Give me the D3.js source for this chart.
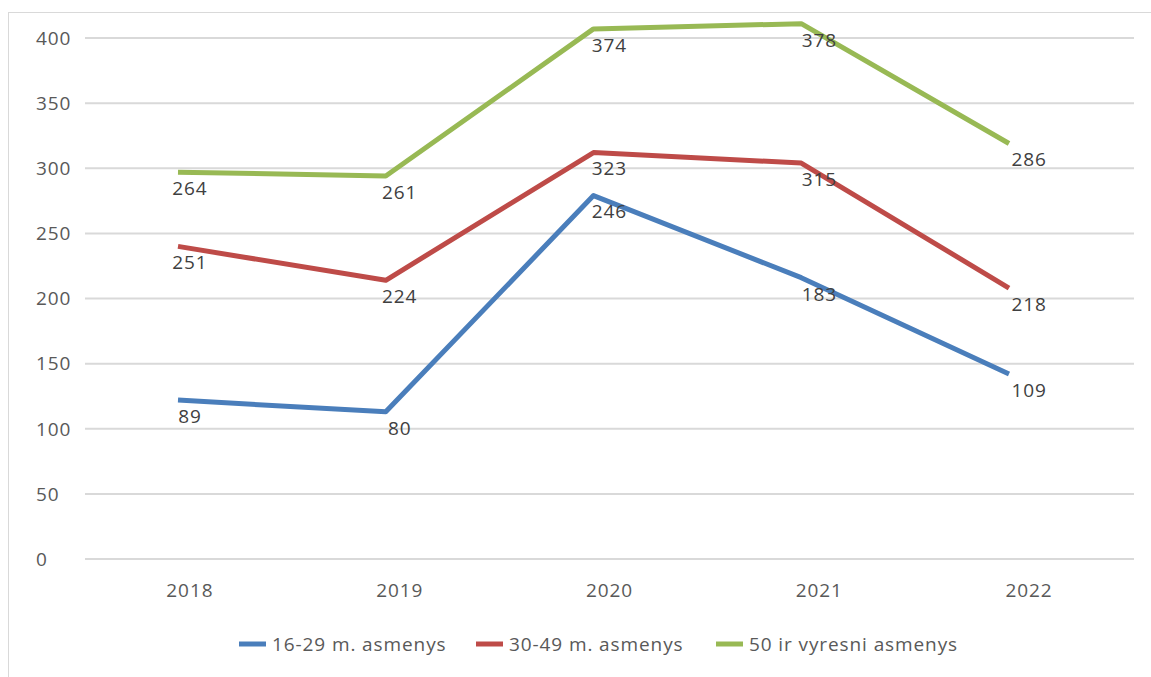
<!DOCTYPE html>
<html><head><meta charset="utf-8">
<script src="https://cdn.jsdelivr.net/npm/d3@7"></script>
<style>body{margin:0;background:#fff}svg{display:block}text{font-family:"Open Sans",sans-serif;fill:#595959;letter-spacing:0.9px}</style>
</head><body><svg id="c" width="1151" height="677"></svg>
<script>
const years = ["2018","2019","2020","2021","2022"];
const seriesNames = ["16-29 m. asmenys","30-49 m. asmenys","50 ir vyresni asmenys"];
// positions of the drawn lines
const young = [122,113,279,216,142];
const middle = [240,214,312,304,208];
const older = [297,294,407,411,319];
// data labels as printed in the picture
const youngLabels = [89,80,246,183,109];
const middleLabels = [251,224,323,315,218];
const olderLabels = [264,261,374,378,286];
const yTicks = [0,50,100,150,200,250,300,350,400];
const colors = ["#4a7ebb","#be4b48","#98b954"];

const svg = d3.select("#c");
svg.append("rect").attr("x",8.5).attr("y",12.5).attr("width",1160).attr("height",680)
  .attr("fill","none").attr("stroke","#d9d9d9");

const y = d3.scaleLinear().domain([0,400]).range([559,38]);
const xBand = d3.scaleBand().domain(years).range([85,1134]);
const xLine = d3.scalePoint().domain(years).range([178,1009]);
const fs = 19;

// grid
svg.append("g").selectAll("line").data(yTicks).join("line")
  .attr("x1",85).attr("x2",1134).attr("y1",d=>y(d)).attr("y2",d=>y(d))
  .attr("stroke","#d9d9d9").attr("stroke-width",2);
svg.append("g").selectAll("text").data(yTicks).join("text")
  .attr("x",36).attr("y",d=>y(d)).attr("dy","0.36em").attr("font-size",fs).text(d=>d);
svg.append("g").selectAll("text").data(years).join("text")
  .attr("x",d=>xBand(d)+xBand.bandwidth()/2).attr("y",590).attr("dy","0.36em")
  .attr("text-anchor","middle").attr("font-size",fs).text(d=>d);

const series = [
  {name:seriesNames[0], vals:young, labels:youngLabels, color:colors[0]},
  {name:seriesNames[1], vals:middle, labels:middleLabels, color:colors[1]},
  {name:seriesNames[2], vals:older, labels:olderLabels, color:colors[2]}
];
const line = d3.line().x((d,i)=>xLine(years[i])).y(d=>y(d));
series.forEach(s=>{
  svg.append("path").datum(s.vals).attr("d",line).attr("fill","none")
    .attr("stroke",s.color).attr("stroke-width",5).attr("stroke-linejoin","round");
});
series.forEach(s=>{
  svg.append("g").selectAll("text").data(s.labels).join("text")
    .attr("x",(d,i)=>xBand(years[i])+xBand.bandwidth()/2)
    .attr("y",(d,i)=>y(s.vals[i])+16).attr("dy","0.36em")
    .attr("text-anchor","middle").attr("font-size",fs).style("fill","#404040").text(d=>d);
});

// legend
const legX = [239,476,716];
series.forEach((s,i)=>{
  svg.append("line").attr("x1",legX[i]).attr("x2",legX[i]+27).attr("y1",644).attr("y2",644)
    .attr("stroke",s.color).attr("stroke-width",5);
  svg.append("text").attr("x",legX[i]+33).attr("y",644).attr("dy","0.36em")
    .attr("font-size",fs).text(s.name);
});
</script></body></html>
